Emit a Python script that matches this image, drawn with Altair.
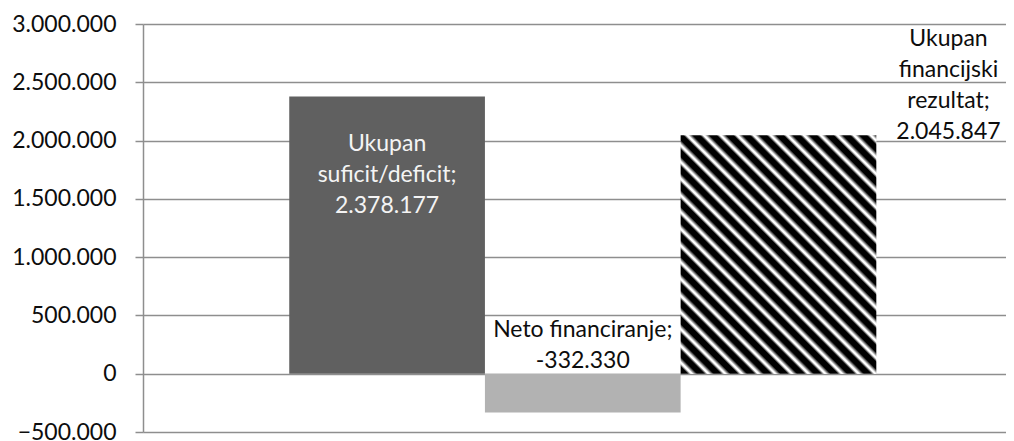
import altair as alt
import pandas as pd

series = ["Ukupan suficit/deficit", "Neto financiranje", "Ukupan financijski rezultat"]
values = [2378177, -332330, 2045847]
label_lines = [["Ukupan", "suficit/deficit;"], ["Neto financiranje;"], ["Ukupan", "financijski", "rezultat;"]]
y_ticks = [-500000, 0, 500000, 1000000, 1500000, 2000000, 2500000, 3000000]
bar_colors = ["#606060", "#b2b2b2", "#000000"]


def fmt(v):
    return f"{v:,}".replace(",", ".")


labels = ["\n".join(l + [fmt(v)]) for l, v in zip(label_lines, values)]
df = pd.DataFrame({"series": series, "value": values, "label": labels})

FONT = "Lato"
FS = 23
LH = 31

# stripe gradient (black with thin white diagonal lines at ~45 degrees)
N = 26
ratio = 196 / 238.5
b_ = (1 + ratio) / (ratio ** 2 + 1)
a_ = ratio * b_
stops = []
for i in range(N):
    b = i / N
    d = 1 / N
    stops += [
        alt.GradientStop(color="#000000", offset=round(b, 5)),
        alt.GradientStop(color="#000000", offset=round(b + 0.42 * d, 5)),
        alt.GradientStop(color="#ffffff", offset=round(b + 0.62 * d, 5)),
        alt.GradientStop(color="#ffffff", offset=round(b + 0.72 * d, 5)),
    ]
stops.append(alt.GradientStop(color="#000000", offset=1))
stripes = alt.LinearGradient(gradient="linear", stops=stops,
                             x1=0, y1=1, x2=round(a_, 4), y2=round(1 - b_, 4))

x = alt.X("series:N", sort=series,
          scale=alt.Scale(domain=series, paddingInner=0, paddingOuter=0.705, align=0.53),
          axis=None)
y = alt.Y("value:Q",
          scale=alt.Scale(domain=[-500000, 3000000], nice=False, zero=False),
          axis=alt.Axis(values=y_ticks, title=None,
                        labelExpr="replace(replace(format(datum.value, ','), ',', '.'), ',', '.')",
                        grid=True, gridColor="#8e8e8e", gridWidth=1.5,
                        domainColor="#8e8e8e", domainWidth=1.5,
                        tickColor="#8e8e8e", tickWidth=1.5, tickSize=8,
                        labelFont=FONT, labelFontSize=FS, labelColor="#0d0d0d",
                        labelPadding=19))

base = alt.Chart(df)

bars = base.transform_filter(
    alt.FieldOneOfPredicate(field="series", oneOf=series[:2])
).mark_bar().encode(
    x=x, y=y, y2=alt.datum(0),
    color=alt.Color("series:N", scale=alt.Scale(domain=series, range=bar_colors), legend=None),
)

striped = base.transform_filter(
    alt.FieldEqualPredicate(field="series", equal=series[2])
).mark_bar(color=stripes).encode(x=x, y=y, y2=alt.datum(0))

t1 = base.transform_filter(
    alt.FieldEqualPredicate(field="series", equal=series[0])
).mark_text(color="#f4f4f4", font=FONT, fontSize=FS, lineBreak="\n", lineHeight=LH,
            align="center", baseline="middle", dy=48).encode(x=x, y=y, text="label:N")

t2 = base.transform_filter(
    alt.FieldEqualPredicate(field="series", equal=series[1])
).mark_text(color="#0d0d0d", font=FONT, fontSize=FS, lineBreak="\n", lineHeight=LH,
            align="center", baseline="middle", dy=-44).encode(x=x, y=alt.datum(0), text="label:N")

t3 = base.transform_filter(
    alt.FieldEqualPredicate(field="series", equal=series[2])
).mark_text(color="#0d0d0d", font=FONT, fontSize=FS, lineBreak="\n", lineHeight=LH,
            align="center", baseline="middle", dx=170, dy=-96).encode(x=x, y=y, text="label:N")

chart = alt.layer(bars, striped, t1, t2, t3).properties(
    width=863, height=408,
    autosize=alt.AutoSizeParams(type="none"),
    padding={"left": 135, "top": 16, "right": 0, "bottom": 17},
    background="white",
).configure_view(stroke=None)

chart.save("out.html", embed_options={"renderer": "svg", "actions": False})
